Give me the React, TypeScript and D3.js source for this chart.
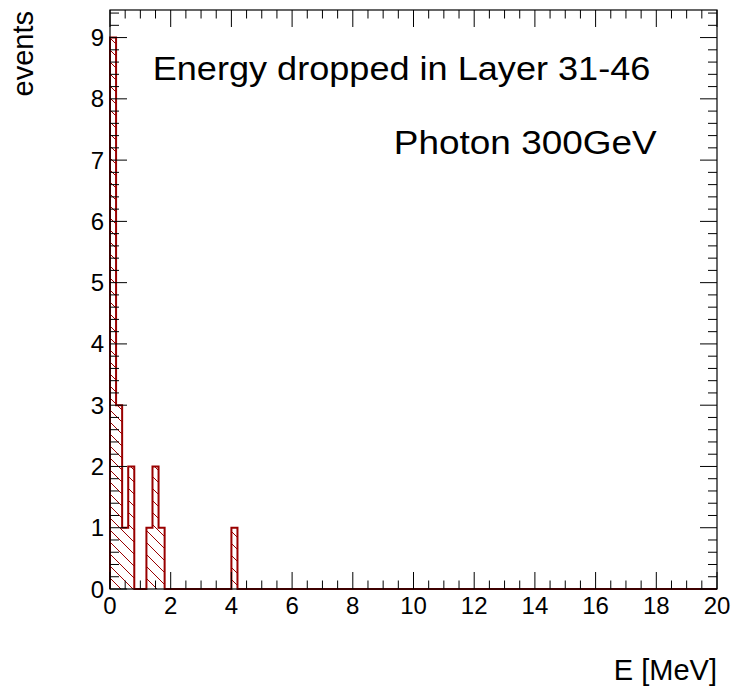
import React from "react";
import * as d3 from "d3";

// ---- data ----
const binWidth = 0.2;
const xMin = 0;
const xMax = 20;
const counts = [
  9, 3, 1, 2, 0, 0, 1, 2, 1, 0,
  0, 0, 0, 0, 0, 0, 0, 0, 0, 0,
  1, 0, 0, 0, 0, 0, 0, 0, 0, 0,
  0, 0, 0, 0, 0, 0, 0, 0, 0, 0,
  0, 0, 0, 0, 0, 0, 0, 0, 0, 0,
  0, 0, 0, 0, 0, 0, 0, 0, 0, 0,
  0, 0, 0, 0, 0, 0, 0, 0, 0, 0,
  0, 0, 0, 0, 0, 0, 0, 0, 0, 0,
  0, 0, 0, 0, 0, 0, 0, 0, 0, 0,
  0, 0, 0, 0, 0, 0, 0, 0, 0, 0,
];
const xTickLabels = [0, 2, 4, 6, 8, 10, 12, 14, 16, 18, 20];
const yTickLabels = [0, 1, 2, 3, 4, 5, 6, 7, 8, 9];
const yMax = 9.45;
const title1 = "Energy dropped in Layer 31-46";
const title2 = "Photon 300GeV";
const xTitle = "E [MeV]";
const yTitle = "events";

const W = 733;
const H = 686;
const L = 110;
const R = 717;
const T = 10;
const B = 589;
const RED = "#990000";
const FONT = "'Liberation Sans', Arial, Helvetica, sans-serif";

export default function App() {
  const x = d3.scaleLinear().domain([xMin, xMax]).range([L, R]);
  const y = d3.scaleLinear().domain([0, yMax]).range([B, T]);

  const pts: [number, number][] = [[x(xMin), y(0)]];
  counts.forEach((c, i) => {
    const lo = xMin + i * binWidth;
    const hi = lo + binWidth;
    pts.push([x(lo), y(c)]);
    pts.push([x(hi), y(c)]);
  });
  pts.push([x(xMax), y(0)]);
  const path = d3.line()(pts) || "";

  const xMinor = d3.range(0, 40 + 1).map((i) => i * 0.5);
  const yMinor = d3.range(0, 48).map((i) => i * 0.2).filter((v) => v <= yMax);

  return (
    <svg
      width={W}
      height={H}
      style={{ position: "absolute", left: 0, top: 0, background: "#fff" }}
      fontFamily={FONT}
    >
      <defs>
        <pattern id="hatch" patternUnits="userSpaceOnUse" width={12} height={12}>
          <path
            d="M-3,9 L3,15 M0,0 L12,12 M9,-3 L15,3"
            stroke={RED}
            strokeWidth={1}
          />
        </pattern>
      </defs>
      <rect x={0} y={0} width={W} height={H} fill="#fff" />
      <path d={path} fill="url(#hatch)" stroke={RED} strokeWidth={2} strokeLinejoin="miter" />

      {/* frame */}
      <rect x={L} y={T} width={R - L} height={B - T} fill="none" stroke="#000" strokeWidth={1.2} />

      {/* x ticks */}
      {xMinor.map((v, i) => {
        const major = xTickLabels.includes(v);
        const len = major ? 17 : 8.5;
        return (
          <g key={"xt" + i}>
            <line x1={x(v)} x2={x(v)} y1={B} y2={B - len} stroke="#000" strokeWidth={1} />
            <line x1={x(v)} x2={x(v)} y1={T} y2={T + len} stroke="#000" strokeWidth={1} />
          </g>
        );
      })}
      {/* y ticks */}
      {yMinor.map((v, i) => {
        const major = Math.abs(v - Math.round(v)) < 1e-6;
        const len = major ? 17 : 9;
        return (
          <g key={"yt" + i}>
            <line x1={L} x2={L + len} y1={y(v)} y2={y(v)} stroke="#000" strokeWidth={1} />
            <line x1={R} x2={R - len} y1={y(v)} y2={y(v)} stroke="#000" strokeWidth={1} />
          </g>
        );
      })}

      {/* tick labels */}
      {xTickLabels.map((v) => (
        <text key={"xl" + v} x={x(v)} y={614} textAnchor="middle" fontSize={24} fill="#000">
          {v}
        </text>
      ))}
      {yTickLabels.map((v) => (
        <text key={"yl" + v} x={104} y={y(v) + 8.5} textAnchor="end" fontSize={24} fill="#000">
          {v}
        </text>
      ))}

      {/* axis titles */}
      <text x={717} y={680} textAnchor="end" fontSize={29} fill="#000">
        {xTitle}
      </text>
      <text
        transform={`translate(33,11) rotate(-90)`}
        textAnchor="end"
        fontSize={29}
        fill="#000"
      >
        {yTitle}
      </text>

      {/* titles */}
      <g transform={`translate(152.7,80) scale(1.094,1)`}>
        <text x={0} y={0} fontSize={33} fill="#000">
          {title1}
        </text>
      </g>
      <g transform={`translate(656.7,154) scale(1.12,1)`}>
        <text x={0} y={0} textAnchor="end" fontSize={33} fill="#000">
          {title2}
        </text>
      </g>
    </svg>
  );
}
